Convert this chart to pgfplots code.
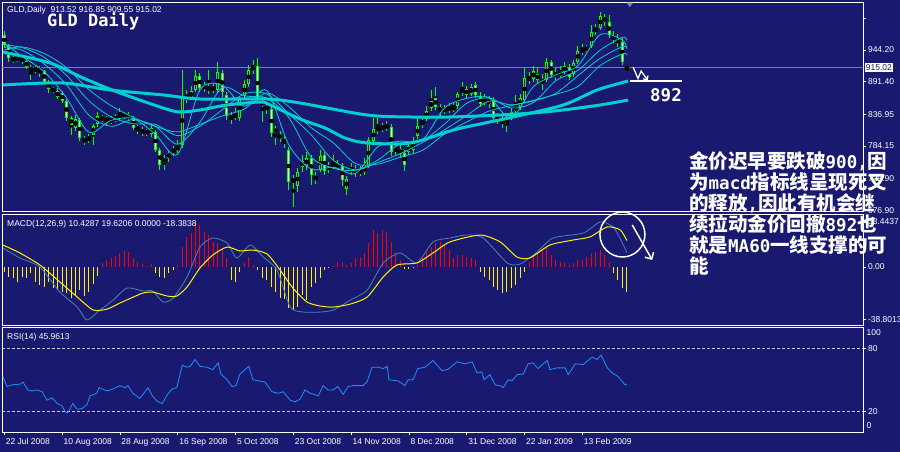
\documentclass[border=0pt]{standalone}
\usepackage{fontspec}
\setmainfont{Liberation Sans}
\newfontfamily\mono{DejaVu Sans Mono}
\newfontfamily\cjk{Noto Sans CJK SC}
\usepackage{pgfplots}
\usepackage{pgfplotstable}
\pgfplotsset{compat=1.18}
\usetikzlibrary{arrows.meta}

\definecolor{bg}{RGB}{25,25,112}
\definecolor{ma}{RGB}{0,206,209}
\definecolor{cand}{RGB}{0,255,0}
\definecolor{macdblue}{RGB}{70,130,180}
\definecolor{rsiblue}{RGB}{30,144,255}
\definecolor{lvl}{RGB}{205,205,205}
\newcommand\lat[1]{{\mono\bfseries\fontsize{17.5}{21}\selectfont #1}}

% daily candles: bar index, open, high, low, close
\pgfplotstableread{
i o h l c
0 969.2 975.8 947.5 952.5
1 950.8 954.2 924.2 930.8
2 930.8 934.2 922.5 927.5
3 927.5 935.8 924.2 930.8
4 930.8 934.2 920.8 925.8
5 925.8 929.2 912.5 915.8
6 915.8 919.2 894.2 909.2
7 909.2 917.5 905.8 914.2
8 914.2 917.5 899.2 909.2
9 909.2 910.8 887.5 890.8
10 890.8 894.2 872.5 879.2
11 879.2 882.5 872.5 875.8
12 865.8 880.8 862.5 875.8
13 872.5 875.8 855.8 859.2
14 859.2 862.5 825.8 830.8
15 830.8 834.2 802.5 819.2
16 814.2 835.8 809.2 829.2
17 827.5 830.8 792.5 797.5
18 797.5 800.8 785.8 790.8
19 792.5 804.2 789.2 799.2
20 802.5 820.8 785.8 817.5
21 820.8 840.8 815.8 834.2
22 832.5 835.8 824.2 827.5
23 825.8 834.2 817.5 830.8
24 829.2 834.2 820.8 824.2
25 827.5 837.5 824.2 832.5
26 830.8 847.5 827.5 835.8
27 834.2 840.8 829.2 837.5
28 835.8 840.8 825.8 829.2
29 830.8 834.2 810.8 814.2
30 815.8 819.2 804.2 810.8
31 810.8 815.8 800.8 805.8
32 805.8 812.5 800.8 809.2
33 804.2 820.8 799.2 814.2
34 807.5 810.8 774.2 777.5
35 777.5 780.8 744.2 752.5
36 755.8 769.2 744.2 764.2
37 764.2 777.5 757.5 772.5
38 774.2 784.2 767.5 779.2
39 777.5 794.2 772.5 784.2
40 785.8 910.8 780.8 867.5
41 867.5 877.5 855.8 862.5
42 864.2 884.2 860.8 875.8
43 877.5 910.8 874.2 900.8
44 900.8 905.8 874.2 880.8
45 880.8 890.8 874.2 884.2
46 882.5 910.8 870.8 877.5
47 877.5 887.5 872.5 882.5
48 877.5 924.2 872.5 907.5
49 905.8 910.8 865.8 874.2
50 869.2 874.2 827.5 834.2
51 834.2 840.8 820.8 829.2
52 830.8 847.5 827.5 837.5
53 830.8 867.5 825.8 864.2
54 867.5 894.2 864.2 887.5
55 887.5 919.2 882.5 910.8
56 909.2 927.5 904.2 917.5
57 917.5 930.8 855.8 860.8
58 859.2 867.5 824.2 850.8
59 850.8 857.5 837.5 844.2
60 845.8 850.8 799.2 805.8
61 805.8 817.5 785.8 814.2
62 804.2 809.2 790.8 795.8
63 795.8 800.8 780.8 789.2
64 777.5 782.5 710.8 724.2
65 724.2 735.8 682.5 729.2
66 717.5 747.5 707.5 740.8
67 749.2 769.2 740.8 759.2
68 750.8 774.2 744.2 764.2
69 764.2 769.2 719.2 735.8
70 734.2 740.8 720.8 727.5
71 744.2 777.5 740.8 767.5
72 769.2 774.2 735.8 742.5
73 744.2 757.5 739.2 750.8
74 750.8 769.2 745.8 755.8
75 754.2 760.8 744.2 749.2
76 750.8 755.8 717.5 727.5
77 712.5 734.2 702.5 729.2
78 740.8 755.8 735.8 747.5
79 745.8 752.5 732.5 739.2
80 739.2 750.8 734.2 744.2
81 740.8 764.2 735.8 749.2
82 750.8 799.2 747.5 794.2
83 792.5 830.8 787.5 812.5
84 810.8 830.8 804.2 814.2
85 812.5 822.5 807.5 815.8
86 814.2 825.8 809.2 819.2
87 815.8 820.8 767.5 774.2
88 775.8 787.5 769.2 780.8
89 779.2 785.8 764.2 770.8
90 772.5 777.5 742.5 752.5
91 774.2 789.2 769.2 784.2
92 777.5 799.2 772.5 789.2
93 800.8 830.8 795.8 817.5
94 819.2 834.2 814.2 825.8
95 829.2 850.8 825.8 842.5
96 847.5 877.5 842.5 859.2
97 864.2 882.5 844.2 849.2
98 849.2 854.2 834.2 840.8
99 842.5 852.5 837.5 845.8
100 845.8 855.8 839.2 847.5
101 844.2 857.5 840.8 850.8
102 850.8 874.2 845.8 870.8
103 872.5 890.8 867.5 879.2
104 879.2 884.2 864.2 869.2
105 870.8 887.5 867.5 882.5
106 885.8 890.8 864.2 869.2
107 867.5 874.2 849.2 854.2
108 855.8 870.8 852.5 864.2
109 862.5 867.5 847.5 854.2
110 860.8 865.8 825.8 830.8
111 832.5 839.2 820.8 827.5
112 827.5 834.2 814.2 822.5
113 820.8 835.8 807.5 829.2
114 830.8 847.5 827.5 840.8
115 842.5 869.2 837.5 850.8
116 849.2 870.8 844.2 864.2
117 860.8 914.2 857.5 897.5
118 899.2 907.5 887.5 894.2
119 895.8 917.5 890.8 909.2
120 904.2 914.2 889.2 894.2
121 894.2 904.2 877.5 890.8
122 894.2 930.8 890.8 924.2
123 924.2 927.5 897.5 902.5
124 904.2 914.2 894.2 900.8
125 900.8 917.5 897.5 909.2
126 907.5 924.2 904.2 917.5
127 915.8 920.8 894.2 899.2
128 904.2 927.5 899.2 922.5
129 924.2 950.8 920.8 942.5
130 940.8 954.2 935.8 945.8
131 944.2 952.5 940.8 947.5
132 950.8 985.8 947.5 974.2
133 974.2 987.5 969.2 980.8
134 980.8 1007.5 977.5 1000.8
135 999.2 1004.2 984.2 990.8
136 990.8 1002.5 964.2 969.2
137 967.5 975.8 955.8 962.5
138 960.8 970.8 949.2 957.5
139 957.5 964.2 919.2 924.2
140 913.52 916.85 909.55 915.02
}\candles

% MACD histogram
\pgfplotstableread{
i v
0 -3.5
1 -7.2
2 -8.4
3 -10.9
4 -7.2
5 -8.4
6 -4.7
7 -10.9
8 -13.4
9 -15.1
10 -10.9
11 -15.8
12 -17.1
13 -18.3
14 -19.5
15 -23.2
16 -20.8
17 -17.1
18 -21.5
19 -18.3
20 -12.6
21 -6.7
22 2.7
23 5.2
24 6.4
25 8.2
26 10.6
27 12.1
28 11.4
29 6.4
30 4.0
31 2.2
32 0.7
33 2.2
34 -4.7
35 -7.2
36 -8.4
37 -4.7
38 -2.2
39 1.5
40 15.1
41 22.5
42 25.0
43 33.6
44 31.2
45 26.2
46 23.7
47 18.8
48 17.6
49 13.9
50 6.4
51 -9.6
52 -10.9
53 -3.5
54 2.7
55 7.7
56 1.5
57 -2.2
58 -8.4
59 -9.6
60 -14.6
61 -18.3
62 -23.2
63 -24.0
64 -30.7
65 -31.9
66 -29.4
67 -20.8
68 -24.5
69 -14.6
70 -12.2
71 -8.4
72 -2.2
73 -0.5
74 0.5
75 3.5
76 4.0
77 1.5
78 2.7
79 6.4
80 7.7
81 10.1
82 17.6
83 27.5
84 25.0
85 27.5
86 26.2
87 18.8
88 11.4
89 5.2
90 -1.5
91 -1.5
92 -0.7
93 1.5
94 6.4
95 11.4
96 15.1
97 17.6
98 18.8
99 16.3
100 12.6
101 6.4
102 9.0
103 8.9
104 7.7
105 6.4
106 5.2
107 -3.5
108 -7.2
109 -9.6
110 -14.6
111 -17.1
112 -19.0
113 -18.3
114 -15.8
115 -13.4
116 -8.4
117 -3.5
118 4.0
119 8.9
120 10.1
121 12.6
122 13.9
123 8.9
124 5.2
125 4.0
126 2.7
127 1.5
128 2.7
129 5.2
130 5.2
131 7.7
132 10.1
133 11.4
134 12.6
135 8.9
136 4.0
137 -4.7
138 -9.6
139 -15.8
140 -18.3838
}\hist

\pgfplotsset{
  panel/.style={
    scale only axis, width=861pt,
    xmin=-0.52, xmax=193.1,
    axis line style={white, line width=0.8pt},
    tick style={white, line width=0.6pt},
    major tick length=3pt, tick align=outside,
    ytick pos=right, yticklabel pos=right, xtick pos=left,
    ticklabel style={text=white, font=\fontsize{8.5}{10}\selectfont},
    yticklabel style={xshift=-1.5pt},
    /pgf/number format/assume math mode=true,
    clip mode=individual,
  },
  candle/.style 2 args={only marks, mark=none,
    error bars/.cd, y dir=both, y explicit, error mark=none,
    error bar style={draw=#1, line width=#2}},
}

\begin{document}
\begin{tikzpicture}
\path[use as bounding box, fill=bg] (0pt,0pt) rectangle (900pt,452pt);

% ---------- price panel ----------
\begin{axis}[panel, at={(2pt,241pt)}, anchor=south west, height=208.3pt,
  ymin=675.8, ymax=1023, xtick=\empty,
  ytick={997.5,944.2,891.4,836.95,784.15,729.9,676.9},
  yticklabels={,944.20,891.40,836.95,784.15,729.90,676.90}]
\addplot[gray, line width=0.8pt] coordinates {(-0.52,915.02) (193.1,915.02)};
% wicks
\addplot[candle={cand}{1pt}]
  table[x=i, y expr={(\thisrow{h}+\thisrow{l})/2}, y error expr={(\thisrow{h}-\thisrow{l})/2}] {\candles};
% bodies
\addplot[candle={cand}{3pt}]
  table[x=i, y expr={(\thisrow{o}+\thisrow{c})/2}, y error expr={abs(\thisrow{o}-\thisrow{c})/2}] {\candles};
\addplot[restrict expr to domain={\thisrow{o}-\thisrow{c}}{0.1:1000}, candle={white}{1pt}]
  table[x=i, y expr={(\thisrow{o}+\thisrow{c})/2}, y error expr={max(abs(\thisrow{o}-\thisrow{c})/2-1.6,0)}] {\candles};
\addplot[restrict expr to domain={\thisrow{c}-\thisrow{o}}{0.1:1000}, candle={bg}{1pt}]
  table[x=i, y expr={(\thisrow{o}+\thisrow{c})/2}, y error expr={max(abs(\thisrow{o}-\thisrow{c})/2-1.6,0)}] {\candles};
% moving averages
\addplot[ma, line width=0.8pt, smooth, tension=0.5] coordinates {
(0,955.8) (4,933.5) (9,907.8) (14,864.2) (19,807.2) (24,826.8) (29,829.8) (34,803.5) (39,770.5) (44,877.5) (49,885.2) (54,850.5) (59,876.8) (64,785.8) (69,745.8) (74,748.8) (79,738.5) (84,782.8) (89,792.2) (94,793.8) (99,847.5) (104,863.5) (109,864.8) (114,830.2) (119,883.2) (124,902.5) (129,918.2) (134,969.8) (139,960.8) (140,945.8)};
\addplot[ma, line width=0.8pt, smooth, tension=0.5] coordinates {
(0,949.2) (4,943.8) (9,920.7) (14,886) (19,835.7) (24,817) (29,828.3) (34,816.7) (39,787) (44,824) (49,881.3) (54,867.8) (59,863.7) (64,831.3) (69,765.8) (74,747.3) (79,743.7) (84,760.7) (89,787.5) (94,793) (99,820.7) (104,855.5) (109,864.2) (114,847.5) (119,856.7) (124,892.8) (129,910.3) (134,944) (139,965.3) (140,960)};
\addplot[ma, line width=0.8pt, smooth, tension=0.5] coordinates {
(0,952.5) (4,948.3) (9,931.8) (14,901.8) (19,859.7) (24,832.7) (29,821.3) (34,820) (39,801.3) (44,817.2) (49,844.3) (54,871) (59,870.8) (64,837.7) (69,802.8) (74,760.2) (79,744.3) (84,756.7) (89,771.2) (94,789.7) (99,811.2) (104,835) (109,858.7) (114,852.8) (119,859.3) (124,872) (129,901.3) (134,930.2) (139,949.7) (140,947.5)};
\addplot[ma, line width=0.8pt, smooth, tension=0.5] coordinates {
(0,944.2) (4,949.3) (9,938.2) (14,914.8) (19,878.2) (24,851.5) (29,832) (34,816.8) (39,807.7) (44,820.3) (49,834.2) (54,845.8) (59,872.5) (64,849.5) (69,814.7) (74,789.3) (79,754.7) (84,754) (89,765.5) (94,776.8) (99,804) (104,824.2) (109,842.3) (114,851.5) (119,860.3) (124,870.2) (129,883.5) (134,918.3) (139,937.8) (140,935.8)};
\addplot[ma, line width=3pt, smooth, tension=0.5] coordinates {
(-0.3,940.8) (10.3,922.5) (17.7,897.5) (25.4,874.2) (35.7,847.5) (39.5,840.8) (44,844.2) (50.1,852.5) (57.5,857.5) (59.8,852.5) (66.5,829.2) (72.1,814.2) (76.6,797.5) (81.6,789.2) (91.3,789.2) (101,810.8) (108.1,822.5) (114.4,832.5) (125.7,852.5) (133.3,877.5) (140.3,892.5)};
\addplot[ma, line width=3pt, smooth, tension=0.5] coordinates {
(-0.3,885.8) (13,889.2) (23.8,877.5) (35.7,869.2) (44,862.5) (59,862.5) (66.5,855.8) (81.6,835.8) (91.3,832.5) (100.3,832.5) (111.5,835.8) (118.9,839.2) (125.7,844.2) (134,852.5) (140.3,860.8)};
% annotations
\fill[gray] (axis cs:139.9,1023) -- (axis cs:141.4,1023) -- (axis cs:140.65,1015.5) -- cycle;
\draw[white, line width=2pt] (axis cs:140.8,892.2) -- (axis cs:152.3,892.2);
\draw[white, line width=1.3pt, -{Straight Barb[length=3pt]}] (axis cs:141.4,915.8) -- (axis cs:142.5,896.5) -- (axis cs:143.2,909.2) -- (axis cs:144.7,893.5);
\node[white, anchor=north west, inner sep=0pt, font=\mono\bfseries\fontsize{17.5}{18}\selectfont] at (axis cs:145.2,880.8) {892};
\node[fill=white, text=bg, anchor=west, inner sep=1.2pt, xshift=1.5pt, font=\fontsize{8.5}{10}\selectfont] at (axis cs:193.1,915.02) {915.02};
\end{axis}

% ---------- MACD panel ----------
\begin{axis}[panel, at={(2pt,127pt)}, anchor=south west, height=111pt,
  ymin=-43, ymax=39.3, xtick=\empty,
  ytick={33.44,0,-38.8013}, yticklabels={33.4437,0.00,-38.8013}]
\addplot[ycomb, red, line width=1pt, mark=none, restrict y to domain=0.01:100] table[x=i, y=v] {\hist};
\addplot[ycomb, yellow, line width=1pt, mark=none, restrict y to domain=-100:-0.01] table[x=i, y=v] {\hist};
\addplot[macdblue, line width=0.8pt, smooth, tension=0.4] coordinates {
(-0.3,14.1) (3.5,6.7) (8,0) (12.5,-18.6) (16.4,-29.7) (18.6,-39.3) (21.5,-31.9) (24.5,-24.5) (27.6,-15.6) (31.2,-17.8) (33.4,-17.8) (35.7,-26) (38,-23) (41.1,-7.4) (44,14.8) (46.9,21.5) (50.1,17.8) (52.3,6.7) (55.3,16.3) (58.2,7.4) (61.3,-2.2) (64.3,-29.7) (67.2,-33.4) (71,-33.4) (74,-31.9) (77.8,-24.5) (81.6,-17.1) (85.2,3) (89,10.4) (92.8,3) (96.4,18.6) (100.2,21.5) (104,23.7) (107.7,21.5) (113.1,3) (116,2.2) (119.8,11.1) (123.4,21.5) (130.2,25.2) (134,33.4) (136.9,29.7) (139,17.8) (140,10.43)};
\addplot[yellow, line width=1pt, smooth, tension=0.4] coordinates {
(-0.3,16.3) (3.5,10.4) (8,1.5) (12.5,-11.1) (16.4,-22.3) (20,-31.9) (23.1,-31.2) (26,-26.7) (29,-22.3) (31.2,-19.3) (33.4,-18.6) (36.6,-21.5) (38.8,-21.5) (41.1,-14.8) (44,-0.7) (46.9,8.9) (50.1,14.8) (53,11.9) (55.9,12.6) (59.1,9.6) (62,-2.2) (64.9,-15.6) (68.1,-26) (71,-28.9) (74,-29.7) (77.8,-27.5) (81.6,-22.3) (85.2,-7.4) (88.3,1.5) (92.8,3) (96.4,10.4) (100.2,18.6) (107,23.7) (111.5,18.6) (115.3,7.4) (118.2,6.7) (122.7,16.3) (127.9,20) (131.7,22.3) (135.6,29.7) (138.5,27.5) (140,19.62)};
\draw[white, line width=1.5pt] (axis cs:139,24.1) circle[radius=22.5pt];
\draw[white, line width=1.5pt, -{Straight Barb[length=5pt]}] (axis cs:141.2,31.2) -- (axis cs:145.7,5.2);
\end{axis}

% ---------- RSI panel ----------
\begin{axis}[panel, at={(2pt,19.7pt)}, anchor=south west, height=104.6pt,
  ymin=0, ymax=100, ytick={20,80}, yticklabels={20,80},
  xtick={0,13,...,130},
  xticklabels={22 Jul 2008,10 Aug 2008,28 Aug 2008,16 Sep 2008,5 Oct 2008,23 Oct 2008,14 Nov 2008,8 Dec 2008,31 Dec 2008,22 Jan 2009,13 Feb 2009},
  xticklabel style={anchor=north west, xshift=-2pt}]
\addplot[lvl, line width=0.6pt, dash pattern=on 3pt off 2pt] coordinates {(-0.52,80) (193.1,80)};
\addplot[lvl, line width=0.6pt, dash pattern=on 3pt off 2pt] coordinates {(-0.52,20) (193.1,20)};
\addplot[rsiblue, line width=0.8pt] coordinates {
(-0.3,53.4) (0.6,43.7) (1.7,45.3) (3.5,46) (4.2,48) (5.3,40.5) (6.2,39.5) (7.4,40.5) (8.5,38.8) (9.6,30.7) (10.7,33) (11.9,27.5) (13.0,25.2) (13.7,19.4) (14.3,18.8) (15.4,27.5) (16.4,22) (17.5,22.7) (18.6,26.6) (19.3,34.9) (20.8,37.3) (21.3,42.7) (23.1,39.5) (24.4,41.4) (26.0,44.6) (27.1,42.7) (27.8,44.6) (28.9,37.3) (30.5,32.4) (32.3,42.7) (33.2,35.6) (34.3,29.8) (35.5,27.5) (36.6,35.6) (37.7,41.4) (38.8,42.7) (40.0,64.1) (41.1,62.2) (41.8,63.1) (42.9,69.6) (44.0,63.1) (45.6,62.2) (46.9,59.9) (48.1,66.4) (48.7,55.7) (50.1,50.2) (51.2,43.7) (52.1,44.6) (53.0,55.7) (55.0,63.1) (55.9,50.2) (57.1,49.2) (58.6,48) (60.2,38.8) (61.6,37.3) (62.7,38.8) (64.3,30.7) (65.4,29.1) (66.5,31.7) (67.6,40.5) (68.8,37.3) (70.6,34.9) (71.7,44.6) (72.8,40.5) (73.9,40.5) (75.0,43.7) (76.2,36.3) (77.3,43.7) (78.4,44.6) (80.7,44.6) (81.6,48.5) (82.7,62.2) (84.1,62.2) (85.2,60.9) (86.1,63.1) (86.5,50.2) (88.5,49.2) (90.1,44.6) (90.8,50.2) (91.9,50.2) (93.0,60.9) (94.6,62.2) (96.4,68.7) (98.4,59) (99.6,59.9) (100.2,61.6) (101.8,67.4) (103.6,65.5) (105.2,67.4) (106.3,56.7) (107.4,57.7) (107.9,50.2) (109.2,55.1) (110.4,45.3) (111.5,44.6) (112.2,42.7) (113.3,50.2) (114.2,49.2) (115.3,55.1) (116.7,55.7) (117.8,65.5) (118.9,66.4) (120.0,60.9) (122.1,68.7) (122.7,59.9) (124.3,61.6) (126.1,61.6) (126.8,55.1) (128.4,65.5) (130.2,64.8) (132.2,71.9) (133.3,69.6) (134.2,73.8) (135.6,61.6) (136.7,56.7) (138.0,53.4) (139.6,45.3) (140,45.96)};
\node[white, anchor=west, inner sep=0pt, xshift=3.5pt, font=\fontsize{8.5}{10}\selectfont] at (axis cs:193.1,95) {100};
\node[white, anchor=west, inner sep=0pt, xshift=3.5pt, font=\fontsize{8.5}{10}\selectfont] at (axis cs:193.1,6.5) {0};
\end{axis}

% ---------- texts ----------
\node[white, anchor=west, inner sep=0pt, font=\fontsize{8.5}{10}\selectfont] at (7pt,442pt) {GLD,Daily\ \ 913.52 916.85 909.55 915.02};
\node[white, anchor=base west, inner sep=0pt, font=\mono\bfseries\fontsize{17}{18}\selectfont] at (47pt,425.3pt) {GLD Daily};
\node[white, anchor=west, inner sep=0pt, font=\fontsize{8.5}{10}\selectfont] at (7pt,227.5pt) {MACD(12,26,9) 10.4287 19.6206 0.0000 -18.3838};
\node[white, anchor=west, inner sep=0pt, font=\fontsize{8.5}{10}\selectfont] at (7pt,114.5pt) {RSI(14) 45.9613};
\node[white, anchor=north west, inner sep=0pt, align=left, font=\cjk\bfseries\fontsize{19.5}{21}\selectfont] at (689pt,301pt)
 {金价迟早要跌破\lat{900,}因\\为\lat{macd}指标线呈现死叉\\的释放\lat{,}因此有机会继\\续拉动金价回撤\lat{892}也\\就是\lat{MA60}一线支撑的可\\能};
\end{tikzpicture}
\end{document}
